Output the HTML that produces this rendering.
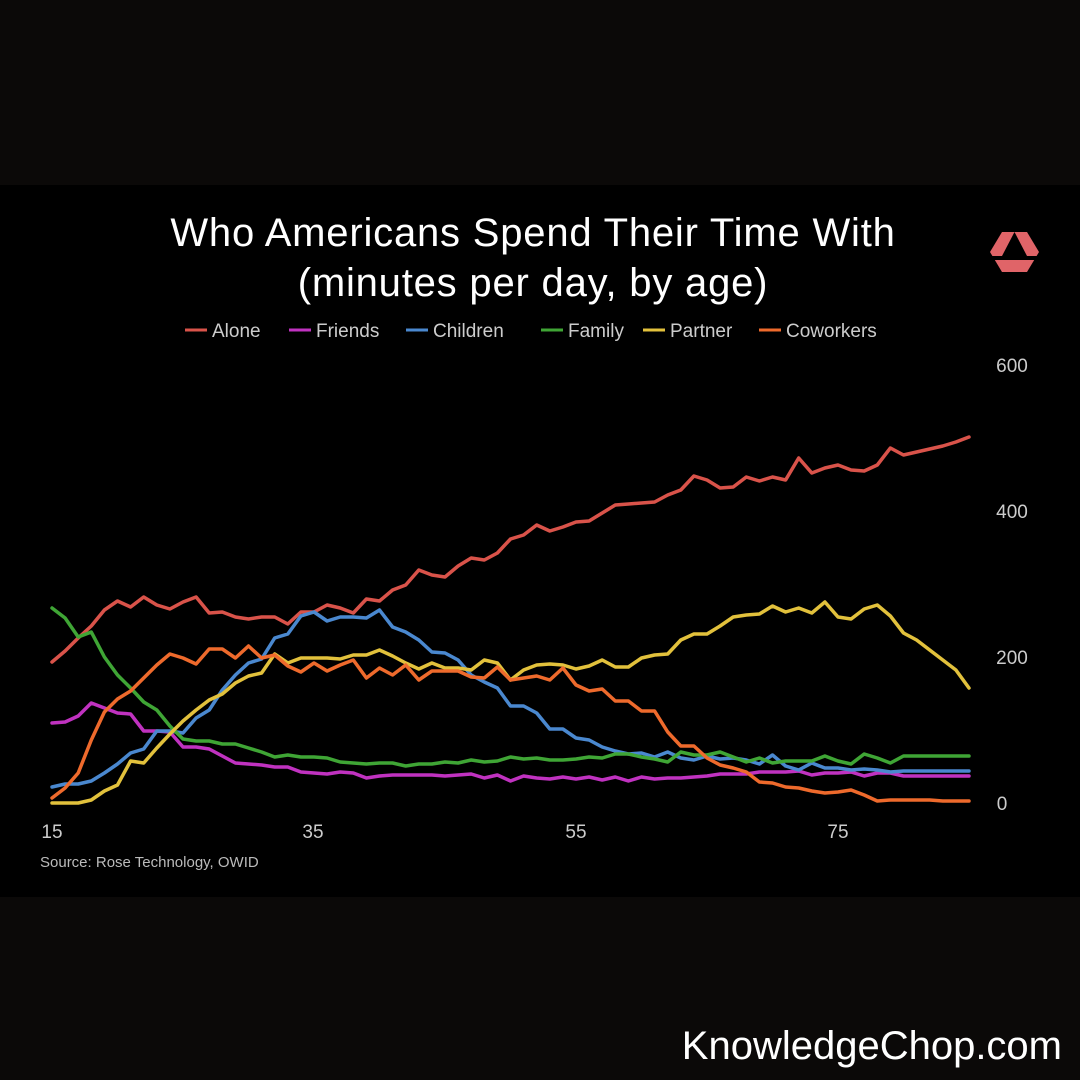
<!DOCTYPE html>
<html><head><meta charset="utf-8"><style>
html,body{margin:0;padding:0;background:#0b0908;}
body{width:1080px;height:1080px;position:relative;overflow:hidden;font-family:"Liberation Sans",sans-serif;}
#panel{position:absolute;left:0;top:185px;width:1080px;height:712px;background:#000;}
.t{position:absolute;color:#fff;white-space:nowrap;}
</style></head><body>
<div id="panel"></div>
<div class="t" style="left:0;width:1066px;text-align:center;top:208px;font-size:40px;letter-spacing:0.8px;line-height:50px;">Who Americans Spend Their Time With<br>(minutes per day, by age)</div>
<svg width="1080" height="1080" style="position:absolute;left:0;top:0">
<polygon points="1002,232 1027,232 1039,252 1027,272 1002,272 990,252" fill="#e06468"/>
<polygon points="1014.5,232 1027,256 1002,256" fill="#000"/>
<rect x="990" y="256" width="50" height="4" fill="#000"/>
<g id="lines" fill="none" stroke-width="3.5" stroke-linejoin="round" stroke-linecap="round"></g>
<g font-family="Liberation Sans, sans-serif" font-size="19" fill="#ccc">
<text x="1012" y="372" text-anchor="middle">600</text>
<text x="1012" y="518" text-anchor="middle">400</text>
<text x="1012" y="664" text-anchor="middle">200</text>
<text x="1002" y="810" text-anchor="middle">0</text>
<text x="52" y="838" text-anchor="middle">15</text>
<text x="313" y="838" text-anchor="middle">35</text>
<text x="576" y="838" text-anchor="middle">55</text>
<text x="838" y="838" text-anchor="middle">75</text>
</g>
<text x="40" y="867" font-family="Liberation Sans, sans-serif" font-size="15" fill="#bbb">Source: Rose Technology, OWID</text>
<g id="legend" font-family="Liberation Sans, sans-serif" font-size="19" fill="#ccc"></g>
</svg>
<div class="t" style="right:18px;top:1024px;font-size:40px;">KnowledgeChop.com</div>
<script>
var D={
"#d9534a":[662,651,638,626,610,601,607,597,605,609,602,597,613,612,617,619,617,617,624,612,612,605,608,613,599,601,590,585,570,575,577,566,558,560,553,539,535,525,531,527,522,521,513,505,504,503,502,495,490,476,480,488,487,477,481,477,480,458,473,468,465,470,471,465,448,455,452,449,446,442,437],
"#c032c0":[723,722,716,703,708,713,714,731,731,732,747,747,749,756,763,764,765,767,767,772,773,774,772,773,778,776,775,775,775,775,776,775,774,778,775,781,776,778,779,777,779,777,780,777,781,777,779,778,778,777,776,774,774,774,772,772,772,771,775,773,773,772,776,773,773,776,776,776,776,776,776],
"#4a88cf":[787,784,784,781,773,764,753,749,731,731,733,718,710,690,675,663,659,638,634,616,612,621,617,617,618,610,627,632,640,652,653,660,675,682,688,706,706,713,729,729,738,740,747,751,754,753,757,752,758,760,756,759,758,760,764,755,766,770,763,768,768,770,769,770,772,771,771,771,771,771,771],
"#3fa535":[608,618,637,632,657,675,688,702,710,726,739,741,741,744,744,748,752,757,755,757,757,758,762,763,764,763,763,766,764,764,762,763,760,762,761,757,759,758,760,760,759,757,758,754,754,757,759,762,752,755,755,752,757,762,758,763,761,761,761,756,761,764,754,758,763,756,756,756,756,756,756],
"#e2c13c":[803,803,803,800,791,785,761,763,748,734,721,710,700,694,683,676,673,654,663,658,658,658,659,655,655,650,656,663,669,663,668,668,670,660,663,680,670,665,664,665,669,666,660,667,667,658,655,654,640,634,634,626,617,615,614,606,612,608,613,602,617,619,609,605,616,633,640,650,660,670,688],
"#ee6a2c":[798,788,773,740,712,699,691,678,665,654,658,664,649,649,658,646,658,655,666,672,663,671,665,660,678,668,675,665,680,671,671,671,677,678,667,680,678,676,680,668,685,691,689,701,701,711,711,732,746,746,758,765,768,772,782,783,787,788,791,793,792,790,795,801,800,800,800,800,801,801,801]};
var g=document.getElementById('lines'),ns="http://www.w3.org/2000/svg";
for(var c in D){var p=D[c].map(function(y,i){return (52+i*13.1).toFixed(1)+","+y}).join(" ");
var e=document.createElementNS(ns,"polyline");e.setAttribute("points",p);e.setAttribute("stroke",c);g.appendChild(e);}
var L=[["Alone","#d9534a",185],["Friends","#c032c0",289],["Children","#4a88cf",406],["Family","#3fa535",541],["Partner","#e2c13c",643],["Coworkers","#ee6a2c",759]];
var lg=document.getElementById('legend');
L.forEach(function(l){var ln=document.createElementNS(ns,"line");ln.setAttribute("x1",l[2]);ln.setAttribute("x2",l[2]+22);ln.setAttribute("y1",330);ln.setAttribute("y2",330);ln.setAttribute("stroke",l[1]);ln.setAttribute("stroke-width",3);lg.appendChild(ln);
var t=document.createElementNS(ns,"text");t.setAttribute("x",l[2]+27);t.setAttribute("y",337);t.textContent=l[0];lg.appendChild(t);});
</script>
</body></html>
